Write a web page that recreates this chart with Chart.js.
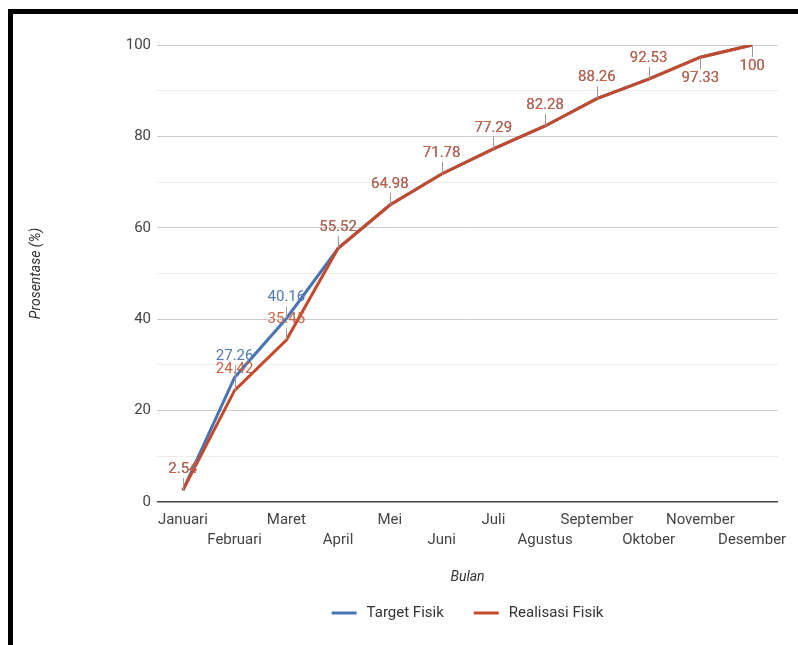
<!DOCTYPE html>
<html>
<head>
<meta charset="utf-8">
<script src="https://cdn.jsdelivr.net/npm/chart.js@4/dist/chart.umd.min.js"></script>
<style>
  html, body { margin: 0; padding: 0; background: #fff; }
  #wrap { position: relative; width: 798px; height: 645px; overflow: hidden; }
  #frame { position: absolute; left: 8px; top: 9px; width: 900px; height: 900px;
           border-top: 5px solid #000; border-left: 5px solid #000; box-sizing: border-box; }
  canvas { position: absolute; left: 0; top: 0; }
</style>
</head>
<body>
<div id="wrap">
  <div id="frame"></div>
  <canvas id="chart" width="798" height="645"></canvas>
</div>
<script>
// Monthly physical progress, cumulative percent
const bulan = ['Januari', 'Februari', 'Maret', 'April', 'Mei', 'Juni',
               'Juli', 'Agustus', 'September', 'Oktober', 'November', 'Desember'];
const targetFisik = [2.54, 27.26, 40.16, 55.52, 64.98, 71.78, 77.29, 82.28, 88.26, 92.53, 97.33, 100];
const realisasiFisik = [2.54, 24.42, 35.45, 55.52, 64.98, 71.78, 77.29, 82.28, 88.26, 92.53, 97.33, 100];
const yTicks = [0, 20, 40, 60, 80, 100];

const BLUE = '#4a74b4';
const RED = '#c44a2c';
const BLUE_TEXT = '#5079b3';
const RED_TEXT = '#c9603f';
const FONT = 'Roboto, "Noto Sans", sans-serif';
const FS = 15;

// Value labels on stems above (or below near the top edge) each point
const valueLabels = {
  id: 'valueLabels',
  afterDatasetsDraw(chart) {
    const ctx = chart.ctx;
    const area = chart.chartArea;
    const textColors = [BLUE_TEXT, RED_TEXT];
    [0, 1].forEach(di => {
      const meta = chart.getDatasetMeta(di);
      const values = chart.data.datasets[di].data;
      meta.data.forEach((pt, i) => {
        const x = pt.x, y = pt.y;
        const below = (y - 32) < area.top;
        const dir = below ? 1 : -1;
        ctx.save();
        ctx.strokeStyle = '#9a9a9a';
        ctx.lineWidth = 1;
        ctx.beginPath();
        ctx.moveTo(Math.round(x) + 0.5, y);
        ctx.lineTo(Math.round(x) + 0.5, y + dir * 12);
        ctx.stroke();
        ctx.font = FS + 'px ' + FONT;
        ctx.fillStyle = textColors[di];
        ctx.textAlign = 'center';
        ctx.textBaseline = 'middle';
        ctx.fillText(String(values[i]), x, y + dir * 21);
        ctx.restore();
      });
    });
  }
};

// Legend centred under the plot area
const bottomLegend = {
  id: 'bottomLegend',
  afterDraw(chart) {
    const ctx = chart.ctx;
    const area = chart.chartArea;
    const items = chart.data.datasets.map(d => ({ text: d.label, color: d.borderColor }));
    const lineW = 25, gapText = 10, gapItem = 30, yMid = 613;
    ctx.save();
    ctx.font = FS + 'px ' + FONT;
    const widths = items.map(it => lineW + gapText + ctx.measureText(it.text).width);
    const total = widths.reduce((a, b) => a + b, 0) + gapItem * (items.length - 1);
    let x = (area.left + area.right) / 2 - total / 2;
    items.forEach((it, k) => {
      ctx.strokeStyle = it.color;
      ctx.lineWidth = 3;
      ctx.beginPath();
      ctx.moveTo(x, yMid);
      ctx.lineTo(x + lineW, yMid);
      ctx.stroke();
      ctx.fillStyle = '#333';
      ctx.textAlign = 'left';
      ctx.textBaseline = 'middle';
      ctx.fillText(it.text, x + lineW + gapText, yMid);
      x += widths[k] + gapItem;
    });
    ctx.restore();
  }
};

new Chart(document.getElementById('chart'), {
  type: 'line',
  data: {
    labels: bulan,
    datasets: [
      { label: 'Target Fisik', data: targetFisik, borderColor: BLUE, backgroundColor: BLUE,
        borderWidth: 3, pointRadius: 0, tension: 0, order: 2 },
      { label: 'Realisasi Fisik', data: realisasiFisik, borderColor: RED, backgroundColor: RED,
        borderWidth: 3, pointRadius: 0, tension: 0, order: 1 }
    ]
  },
  options: {
    responsive: false,
    animation: false,
    layout: { padding: { top: 45, right: 20, left: 22, bottom: 55 } },
    plugins: {
      legend: { display: false },
      tooltip: { enabled: false }
    },
    scales: {
      x: {
        offset: true,
        grid: { display: false, drawTicks: false },
        border: { display: false },
        ticks: {
          autoSkip: false, maxRotation: 0, minRotation: 0, padding: 8,
          color: '#444', font: { family: FONT, size: FS, lineHeight: 1.33 },
          callback: (v, i) => (i % 2 ? ['', bulan[i]] : bulan[i])
        },
        title: { display: true, text: 'Bulan', color: '#333',
                 font: { family: FONT, size: 14, style: 'italic' }, padding: { top: 0, bottom: 4 } },
        afterFit: s => { s.height = 88; }
      },
      y: {
        min: 0, max: 100,
        grid: {
          drawTicks: false,
          color: c => (c.tick.value === 0 ? '#444' : (yTicks.includes(c.tick.value) ? '#cccccc' : '#ebebeb')),
          lineWidth: c => (c.tick.value === 0 ? 1.5 : 1)
        },
        border: { display: false },
        ticks: {
          stepSize: 10, padding: 6, color: '#444',
          font: { family: FONT, size: FS },
          callback: v => (yTicks.includes(v) ? String(v) : '')
        },
        title: { display: true, text: 'Prosentase (%)', color: '#333',
                 font: { family: FONT, size: 14, style: 'italic' }, padding: { top: 6, bottom: 0 } },
        afterFit: s => { s.width = 135; }
      }
    }
  },
  plugins: [valueLabels, bottomLegend]
});
</script>
</body>
</html>
